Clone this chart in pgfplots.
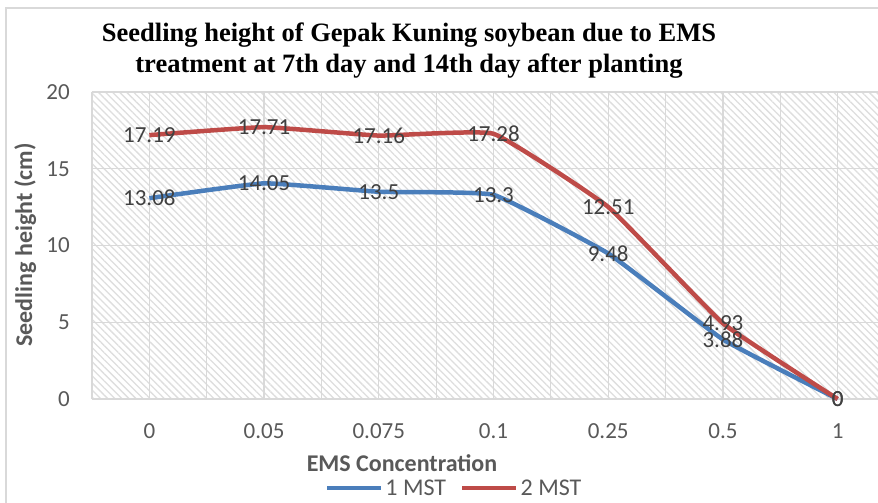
\documentclass[border=0pt]{standalone}
\usepackage{fontspec}
\setmainfont{Carlito}
\newfontfamily\titlefont{Liberation Serif}
\usepackage{pgfplots}
\pgfplotsset{compat=1.18}
\usetikzlibrary{patterns.meta}

\definecolor{mstblue}{RGB}{74,126,187}
\definecolor{mstred}{RGB}{190,75,72}
\definecolor{gridgray}{RGB}{217,217,217}
\definecolor{hatchgray}{RGB}{222,222,222}
\definecolor{ticktext}{RGB}{89,89,89}
\definecolor{labeltext}{RGB}{64,64,64}

\begin{document}
\begin{tikzpicture}[x=1pt,y=1pt]
\useasboundingbox (0,0) rectangle (878,503);
\clip (0,0) rectangle (878,503);
\fill[white] (0,0) rectangle (878,503);
\draw[gridgray, line width=1.2pt] (6,-10) rectangle (900,495);

% hatched plot area
\fill[pattern={Lines[angle=-45,distance=5pt,line width=1.3pt]}, pattern color=hatchgray]
  (92,104) rectangle (895,411);

\begin{axis}[
at={(92pt,104pt)}, anchor=south west,
width=803pt, height=307pt,
scale only axis,
xmin=-0.5, xmax=6.5,
ymin=0, ymax=20,
xtick={0,...,6},
xticklabels={0,0.05,0.075,0.1,0.25,0.5,1},
minor xtick={-0.5,0.5,...,6.5},
ytick={0,5,10,15,20},
xmajorgrids, xminorgrids, ymajorgrids,
grid style={gridgray, line width=1.2pt},
minor grid style={gridgray, line width=1.2pt},
major tick length=0pt, minor tick length=0pt,
axis line style={draw=none},
/pgf/number format/assume math mode=true,
tick label style={font=\fontsize{23}{27}\selectfont, text=ticktext},
yticklabel style={inner sep=0pt, anchor=east, xshift=-22pt},
xticklabel style={inner sep=0pt, anchor=north, yshift=-24pt},
nodes near coords,
every node near coord/.append style={anchor=center, font=\fontsize{23}{27}\selectfont, text=labeltext, inner sep=0pt},
legend columns=2,
legend style={draw=none, fill=none, at={(0.451,-0.29)}, anchor=center,
  font=\fontsize{24}{28}\selectfont, text=ticktext,
  nodes={inner sep=2pt},
  /tikz/every even column/.append style={column sep=12pt}},
legend image code/.code={\draw[#1, line width=4.5pt] (0pt,0pt) -- (54pt,0pt);},
clip=false,
]
\addplot[mstblue, line width=4.5pt, smooth, tension=0.2] coordinates {
(0,13.08) (1,14.05) (2,13.5) (3,13.3) (4,9.48) (5,3.88) (6,0)
};
\addlegendentry{1 MST}
\addplot[mstred, line width=4.5pt, smooth, tension=0.2] coordinates {
(0,17.19) (1,17.71) (2,17.16) (3,17.28) (4,12.51) (5,4.93) (6,0)
};
\addlegendentry{2 MST}
\end{axis}

\node[anchor=base, font=\fontsize{24}{28}\selectfont\bfseries, text=ticktext] at (402,31) {EMS Concentration};
\node[anchor=base, rotate=90, font=\fontsize{24}{28}\selectfont\bfseries, text=ticktext] at (32,258) {Seedling height (cm)};
\node[align=center, font=\titlefont\fontsize{26.5}{31}\selectfont\bfseries] at (409,452) {Seedling height of Gepak Kuning soybean due to EMS\\treatment at 7th day and 14th day after planting};
\end{tikzpicture}
\end{document}
